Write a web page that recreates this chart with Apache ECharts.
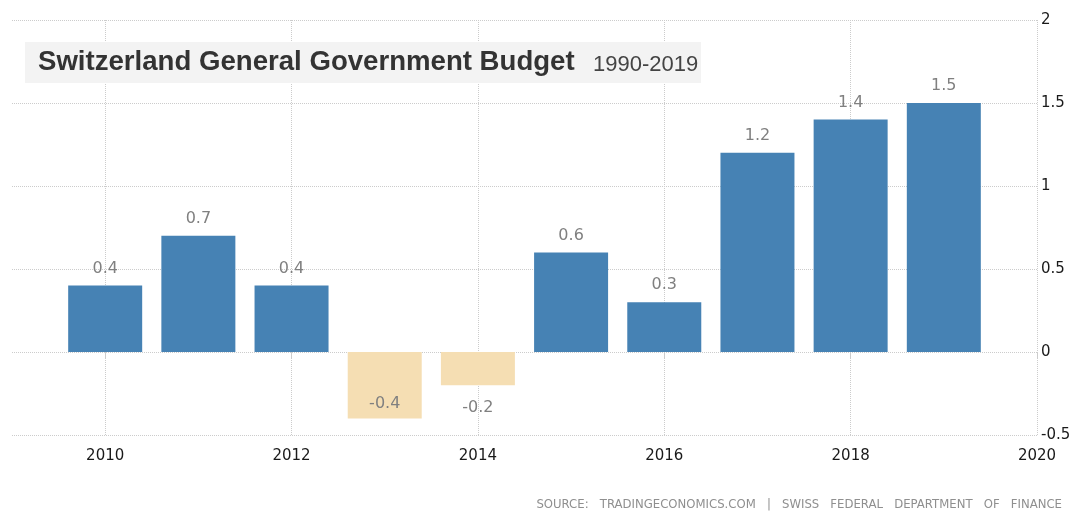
<!DOCTYPE html>
<html>
<head>
<meta charset="utf-8">
<script src="https://cdn.jsdelivr.net/npm/echarts@6/dist/echarts.min.js"></script>
<style>
  html, body { margin: 0; padding: 0; background: #ffffff; }
  #chart { width: 1075px; height: 511px; }
</style>
</head>
<body>
<div id="chart"></div>
<script>
// Annual general government budget balance (% of GDP)
const years = [2010, 2011, 2012, 2013, 2014, 2015, 2016, 2017, 2018, 2019];
const budget = [0.4, 0.7, 0.4, -0.4, -0.2, 0.6, 0.3, 1.2, 1.4, 1.5];
const yearTicks = [2010, 2012, 2014, 2016, 2018, 2020];
const titleText = 'Switzerland General Government Budget';
const periodText = '1990-2019';
const sourceText = 'SOURCE:   TRADINGECONOMICS.COM   |   SWISS   FEDERAL   DEPARTMENT   OF   FINANCE';

const POS_COLOR = '#4682B4';
const NEG_COLOR = '#F5DEB3';
const GRID_COLOR = '#cccccc';
const AXIS_FONT = 'DejaVu Sans';

// Value labels: above positive bars, below negative ones; deep deficits keep
// their label inside the bar so it stays clear of the axis floor.
function labelFor(v) {
  if (v >= 0) return { position: 'top', distance: 9 };
  if (v > -0.3) return { position: 'bottom', distance: 15 };
  return { position: 'insideBottom', distance: 7 };
}

const seriesData = years.map((y, i) => ({
  value: [y, budget[i]],
  itemStyle: { color: budget[i] < 0 ? NEG_COLOR : POS_COLOR },
  label: labelFor(budget[i])
}));

const chart = echarts.init(document.getElementById('chart'), null, { renderer: 'canvas' });

chart.setOption({
  animation: false,
  backgroundColor: '#ffffff',
  grid: { left: 12, right: 38, top: 20, bottom: 76, outerBoundsMode: 'none' },
  xAxis: {
    type: 'value',
    min: 2009,
    max: 2020,
    axisLine: { show: false },
    axisTick: {
      show: true,
      customValues: yearTicks,
      length: 6,
      lineStyle: { color: GRID_COLOR }
    },
    axisLabel: {
      customValues: yearTicks,
      formatter: (v) => String(v),
      margin: 14,
      fontFamily: AXIS_FONT,
      fontSize: 15,
      color: '#1a1a1a'
    },
    splitLine: {
      show: true,
      lineStyle: { color: GRID_COLOR, type: 'dotted', width: 1 }
    }
  },
  yAxis: {
    type: 'value',
    position: 'right',
    min: -0.5,
    max: 2,
    interval: 0.5,
    axisLine: { show: false },
    axisTick: { show: false },
    axisLabel: {
      margin: 4,
      fontFamily: AXIS_FONT,
      fontSize: 15,
      color: '#1a1a1a'
    },
    splitLine: {
      show: true,
      lineStyle: { color: GRID_COLOR, type: 'dotted', width: 1 }
    }
  },
  series: [{
    type: 'bar',
    barWidth: 74,
    data: seriesData,
    label: {
      show: true,
      formatter: (p) => String(p.value[1]),
      fontFamily: AXIS_FONT,
      fontSize: 16,
      color: '#808080'
    }
  }],
  graphic: [
    {
      type: 'rect',
      z: 100,
      shape: { x: 25, y: 42, width: 676, height: 41 },
      style: { fill: '#f3f3f3' }
    },
    {
      type: 'text',
      z: 101,
      x: 38,
      y: 62,
      style: {
        text: titleText,
        font: 'bold 27.6px "Liberation Sans", Arial, sans-serif',
        fill: '#333333',
        textVerticalAlign: 'middle',
        verticalAlign: 'middle'
      }
    },
    {
      type: 'text',
      z: 101,
      x: 593,
      y: 65,
      style: {
        text: periodText,
        font: '22px "Liberation Sans", Arial, sans-serif',
        fill: '#444444',
        textVerticalAlign: 'middle',
        verticalAlign: 'middle'
      }
    },
    {
      type: 'text',
      z: 101,
      x: 1062,
      y: 505,
      style: {
        text: sourceText,
        font: '11.7px "DejaVu Sans", sans-serif',
        fill: '#8f8f8f',
        align: 'right',
        textAlign: 'right',
        verticalAlign: 'middle',
        textVerticalAlign: 'middle'
      }
    }
  ]
});
</script>
</body>
</html>
